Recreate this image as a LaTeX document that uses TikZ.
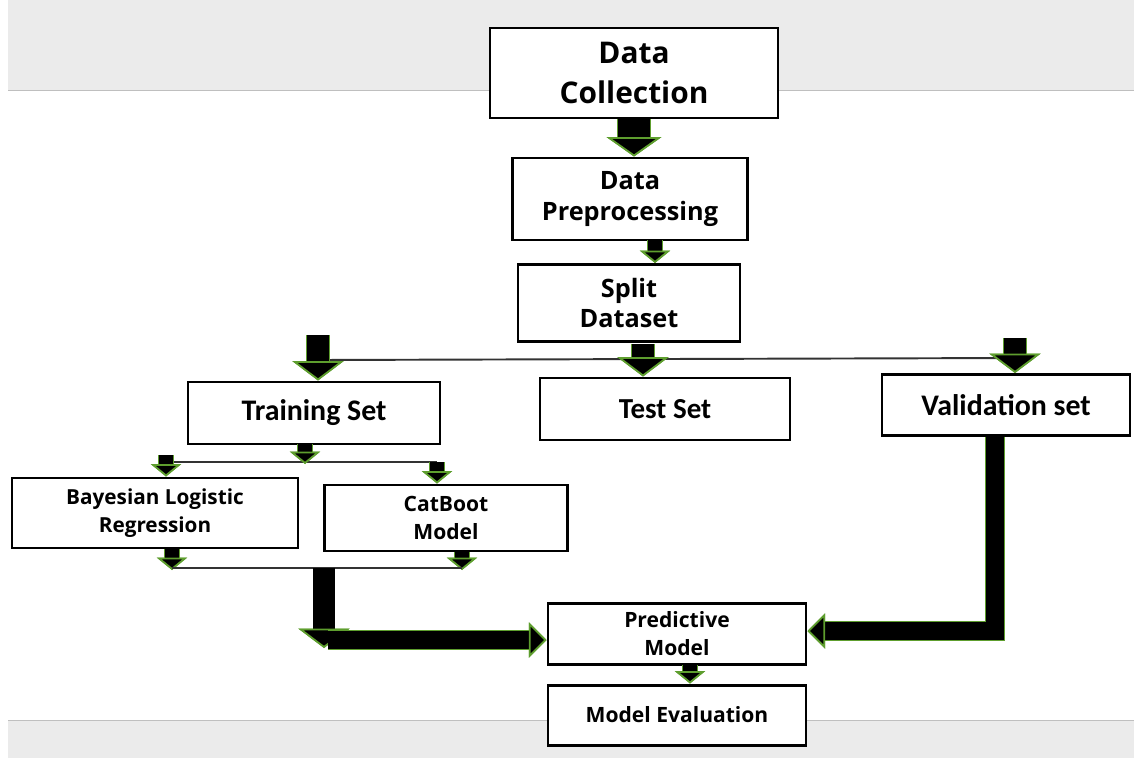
\documentclass[tikz,border=0pt]{standalone}
\usepackage{fontspec}
\setmainfont{Open Sans}
\newfontfamily\calfont{Carlito}
\usetikzlibrary{arrows.meta}
\definecolor{tipgreen}{HTML}{5E9E2E}
\definecolor{bandgray}{HTML}{EBEBEB}
\tikzset{>=latex,
  box/.style={draw, line width=1.7pt, fill=white, align=center, inner sep=0pt},
  edged/.style={preaction={draw=tipgreen, line width=#1}},
  bigarr/.style={line width=18pt, edged=19pt,
    -{Triangle[width=31pt,length=11pt,color=tipgreen,fill=black,line width=1pt]}},
  midarr/.style={line width=13pt, edged=14pt,
    -{Triangle[width=29pt,length=11pt,color=tipgreen,fill=black,line width=1pt]}},
  smallarr/.style={line width=8.5pt, edged=9.5pt,
    -{Triangle[width=17pt,length=7pt,color=tipgreen,fill=black,line width=1pt]}},
  bararr/.style={line width=10pt, line join=miter, edged=11pt,
    -{Triangle[width=20pt,length=10pt,color=tipgreen,fill=black,line width=1pt]}},
  downarr/.style={line width=12pt, edged=13pt,
    -{Triangle[width=29pt,length=11pt,color=tipgreen,fill=black,line width=1pt]}},
  split/.style={line width=1.1pt, black!80}
}
\begin{document}
\begin{tikzpicture}[x=0.02cm,y=-0.02cm]
  \useasboundingbox (0,0) rectangle (1134,758);
  \fill[bandgray] (8,0) rectangle (1134,90);
  \draw[black!25] (8,90) -- (1134,90);
  \fill[bandgray] (8,720) rectangle (1134,758);
  \draw[black!25] (8,720) -- (1134,720);
  % Boxes
  \node[box, minimum width=288*0.02cm, minimum height=90*0.02cm,
    font=\fontsize{17}{23}\selectfont\bfseries] (dc) at (634,73) {Data\\Collection};
  \node[box, minimum width=235*0.02cm, minimum height=82*0.02cm,
    font=\fontsize{14.4}{17.5}\selectfont\bfseries] (dp) at (630,199) {Data\\Preprocessing};
  \node[box, minimum width=222*0.02cm, minimum height=77*0.02cm,
    font=\fontsize{14.4}{17.5}\selectfont\bfseries] (sd) at (629,303) {Split\\Dataset};
  \node[box, minimum width=252*0.02cm, minimum height=62*0.02cm,
    font=\calfont\fontsize{17}{20}\selectfont\bfseries] (ts) at (314,413) {Training Set};
  \node[box, minimum width=250*0.02cm, minimum height=62*0.02cm,
    font=\calfont\fontsize{16.5}{20}\selectfont\bfseries] (tst) at (665,409) {Test Set};
  \node[box, minimum width=248*0.02cm, minimum height=61*0.02cm,
    font=\calfont\fontsize{17}{20}\selectfont\bfseries] (vs) at (1006,405) {Validation set};
  \node[box, minimum width=286*0.02cm, minimum height=70*0.02cm,
    font=\fontsize{11.8}{16}\selectfont\bfseries] (blr) at (155,513) {Bayesian Logistic\\Regression};
  \node[box, minimum width=243*0.02cm, minimum height=66*0.02cm,
    font=\fontsize{12}{16}\selectfont\bfseries] (cb) at (446,518) {CatBoot\\Model};
  \node[box, minimum width=258*0.02cm, minimum height=61*0.02cm,
    font=\fontsize{12}{16}\selectfont\bfseries] (pm) at (677,634) {Predictive\\Model};
  \node[box, minimum width=258*0.02cm, minimum height=60*0.02cm,
    font=\fontsize{12}{16}\selectfont\bfseries] (me) at (677,715) {Model Evaluation};
  % Free ends
  \coordinate (dpout) at (655,240);
  \coordinate (sl) at (318,335);
  \coordinate (sm) at (643,344);
  \coordinate (sr) at (1015,338);
  \coordinate (tl) at (166,455);
  \coordinate (tm) at (305,444);
  \coordinate (tr) at (437,462);
  \coordinate (mj) at (324,568);
  \coordinate (corner) at (324,648);
  \coordinate (pmout) at (690,665);
  % Arrows
  \draw[bigarr] (dc.south) -- (dc.south |- dp.north);
  \draw[smallarr] (dpout) -- (dpout |- sd.north);
  \draw[split] (sl |- 0,360) -- (sr |- 0,358);
  \draw[midarr] (sl) -- (sl |- ts.north);
  \draw[midarr] (sm) -- (sm |- tst.north);
  \draw[midarr] (sr) -- (sr |- vs.north);
  \draw[split] (tl |- 0,462) -- (tr);
  \draw[smallarr] (tm) -- (tm |- 0,464);
  \draw[smallarr] (tl) -- (tl |- blr.north);
  \draw[smallarr] (tr) -- (tr |- cb.north);
  \draw[smallarr] (blr.south -| 172,0) -- (172,570);
  \draw[smallarr] (cb.south -| 462,0) -- (462,570);
  \draw[split] (172,568) -- (462,568);
  \draw[downarr] (mj) -- (corner);
  \draw[bararr] (328,640) -- (pm.west |- 0,640);
  \draw[bararr] (vs.south -| 995,0) |- (pm.east |- 0,631);
  \draw[smallarr] (pmout) -- (pmout |- me.north);
\end{tikzpicture}
\end{document}
